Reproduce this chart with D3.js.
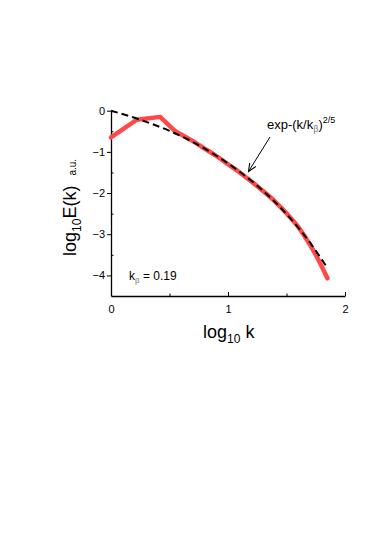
<!DOCTYPE html>
<html>
<head>
<meta charset="utf-8">
<script src="https://cdn.jsdelivr.net/npm/d3@7"></script>
<style>
  body { margin: 0; background: #fff; }
  text { font-family: "Liberation Sans", Arial, sans-serif; }
</style>
</head>
<body>
<div id="chart"></div>
<script>
// Measured spectrum (red) and stretched-exponential fit (dashed), log10 axes
const spectrumLogK = [0, 0.22, 0.42, 0.55, 0.6, 0.7, 0.8, 0.9, 1.0, 1.1, 1.2, 1.3, 1.4, 1.5, 1.6, 1.7, 1.78, 1.85];
const spectrumLogE = [-0.65, -0.22, -0.15, -0.5, -0.58, -0.74, -0.92, -1.1, -1.3, -1.5, -1.72, -1.95, -2.2, -2.49, -2.82, -3.25, -3.66, -4.07];

const fitLogK = [0, 0.25, 0.5, 0.75, 1.0, 1.25, 1.5, 1.7, 1.85];
const fitLogE = [0, -0.22, -0.49, -0.84, -1.28, -1.82, -2.51, -3.2, -3.82];

const xTicks = [0, 1, 2];
const xMinorTicks = [0.5, 1.5];
const yTicks = [0, -1, -2, -3, -4];
const yMinorTicks = [-0.5, -1.5, -2.5, -3.5];

const width = 374, height = 536;

const svg = d3.select("#chart")
    .append("svg")
    .attr("width", width)
    .attr("height", height);

const x = d3.scaleLinear().domain([0, 2]).range([111, 345]);
const y = d3.scaleLinear().domain([0, -4.5]).range([110.7, 296]);

// Axes: major ticks outward on y, inward on x; minor ticks inward
const xAxis = svg.append("g")
    .attr("transform", "translate(0," + y(-4.5) + ")")
    .call(d3.axisBottom(x).tickValues(xTicks).tickSizeInner(-4).tickSizeOuter(0).tickPadding(9).tickFormat(d3.format("d")));
xAxis.select(".domain").attr("stroke-width", 1.3);
xAxis.selectAll("text").style("font-size", "11px").attr("fill", "#000");

svg.append("g")
    .attr("transform", "translate(0," + y(-4.5) + ")")
    .call(d3.axisBottom(x).tickValues(xMinorTicks).tickSize(-2.5).tickFormat(""))
    .select(".domain").remove();

const yAxis = svg.append("g")
    .attr("transform", "translate(" + x(0) + ",0)")
    .call(d3.axisLeft(y).tickValues(yTicks).tickSizeInner(4).tickSizeOuter(0).tickPadding(2).tickFormat(d3.format("d")));
yAxis.select(".domain").attr("stroke-width", 1.3);
yAxis.selectAll("text").style("font-size", "11px").attr("fill", "#000");

svg.append("g")
    .attr("transform", "translate(" + x(0) + ",0)")
    .call(d3.axisLeft(y).tickValues(yMinorTicks).tickSize(-2.5).tickFormat(""))
    .select(".domain").remove();

// Red measured curve: straight kinked start, smooth tail
const spectrum = spectrumLogK.map((k, i) => [k, spectrumLogE[i]]);
const redStyle = sel => sel
    .attr("fill", "none")
    .attr("stroke", "#ff4848")
    .attr("stroke-width", 4.5)
    .attr("stroke-linejoin", "round")
    .attr("stroke-linecap", "round");

svg.append("path")
    .datum(spectrum.slice(0, 4))
    .call(redStyle)
    .attr("d", d3.line().x(d => x(d[0])).y(d => y(d[1])));

svg.append("path")
    .datum(spectrum.slice(3))
    .call(redStyle)
    .attr("d", d3.line().curve(d3.curveMonotoneX).x(d => x(d[0])).y(d => y(d[1])));

// Dashed fit curve
const fit = fitLogK.map((k, i) => [k, fitLogE[i]]);
svg.append("path")
    .datum(fit)
    .attr("fill", "none")
    .attr("stroke", "#000")
    .attr("stroke-width", 2)
    .attr("stroke-dasharray", "7,4")
    .attr("d", d3.line().curve(d3.curveMonotoneX).x(d => x(d[0])).y(d => y(d[1])));

// Axis titles
const xTitle = svg.append("text")
    .attr("x", 203)
    .attr("y", 338)
    .style("font-size", "18px");
xTitle.append("tspan").text("log");
xTitle.append("tspan").attr("dy", 5).style("font-size", "12px").text("10");
xTitle.append("tspan").attr("dy", -5).text(" k");

const yTitle = svg.append("text")
    .attr("transform", "translate(76,256) rotate(-90)")
    .style("font-size", "18px");
yTitle.append("tspan").text("log");
yTitle.append("tspan").attr("dy", 5).style("font-size", "12px").text("10");
yTitle.append("tspan").attr("dy", -5).text("E(k)");
yTitle.append("tspan").attr("dx", 10).style("font-size", "10px").text("a.u.");

// Annotation with arrow
svg.append("defs").append("marker")
    .attr("id", "arrow")
    .attr("viewBox", "0 0 10 10")
    .attr("refX", 9).attr("refY", 5)
    .attr("markerWidth", 9).attr("markerHeight", 9)
    .attr("orient", "auto")
    .append("path")
    .attr("d", "M0,1 L9,5 L0,9")
    .attr("fill", "none")
    .attr("stroke", "#000")
    .attr("stroke-width", 1.2);

svg.append("line")
    .attr("x1", 270).attr("y1", 137)
    .attr("x2", 248.5).attr("y2", 171.5)
    .attr("stroke", "#000")
    .attr("stroke-width", 1)
    .attr("marker-end", "url(#arrow)");

const fitLabel = svg.append("text")
    .attr("x", 267)
    .attr("y", 129)
    .style("font-size", "13px");
fitLabel.append("tspan").text("exp-(k/k");
fitLabel.append("tspan").attr("dy", 3).style("font-size", "9px").attr("fill", "#777").text("β");
fitLabel.append("tspan").attr("dy", -3).text(")");
fitLabel.append("tspan").attr("dy", -6).style("font-size", "9px").text("2/5");

const kbLabel = svg.append("text")
    .attr("x", 129)
    .attr("y", 280)
    .style("font-size", "12px");
kbLabel.append("tspan").text("k");
kbLabel.append("tspan").attr("dy", 3).style("font-size", "8px").attr("fill", "#777").text("β");
kbLabel.append("tspan").attr("dy", -3).text(" = 0.19");
</script>
</body>
</html>
